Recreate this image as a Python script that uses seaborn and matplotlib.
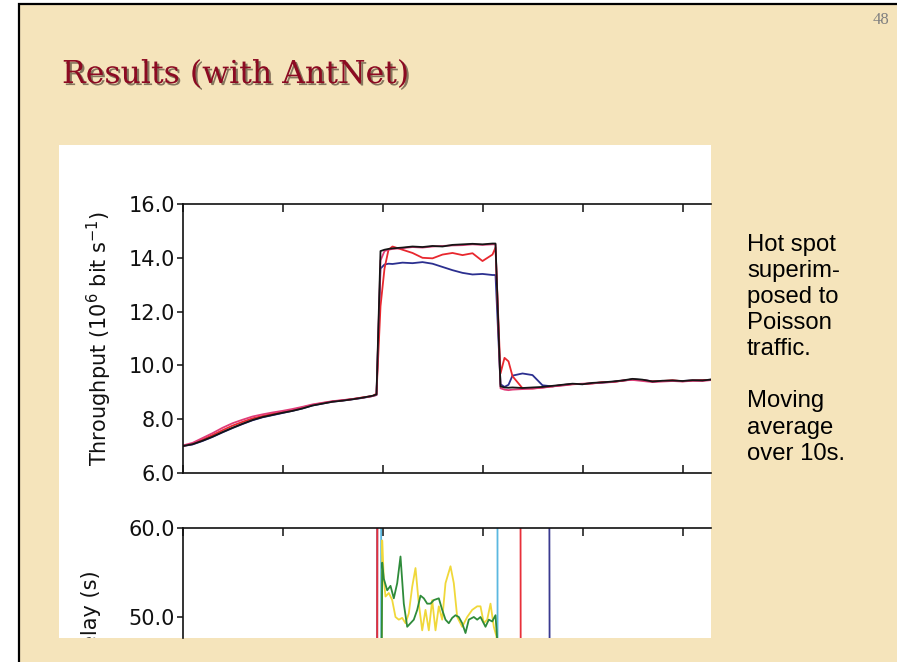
import matplotlib
matplotlib.use("Agg")
import matplotlib.pyplot as plt
import matplotlib.patheffects as pe
from matplotlib.patches import Rectangle
import numpy as np
import seaborn as sns

# time axis (ticks every 100 units)
t = [0, 10, 20, 30, 40, 50, 60, 70, 80, 90, 100, 110, 120, 130, 140, 150, 160, 170, 180, 190,
     194, 198, 202, 206, 210, 220, 230, 240, 250, 260, 270, 280, 290, 300, 310, 313,
     318, 322, 326, 330, 340, 350, 360, 370, 380, 390, 400, 410, 420, 430, 440, 450,
     460, 470, 480, 490, 500, 510, 520, 530]

# throughput, 10^6 bit/s
thr_black = [7.00, 7.07, 7.20, 7.35, 7.52, 7.68, 7.83, 7.97, 8.08, 8.16, 8.24, 8.31, 8.40, 8.51, 8.58, 8.65, 8.69, 8.74, 8.80, 8.87,
             8.92, 14.25, 14.30, 14.33, 14.35, 14.38, 14.42, 14.40, 14.44, 14.42, 14.48, 14.50, 14.52, 14.50, 14.53, 14.53,
             9.22, 9.18, 9.17, 9.18, 9.16, 9.18, 9.20, 9.24, 9.28, 9.32, 9.30, 9.35, 9.37, 9.40, 9.44, 9.50,
             9.47, 9.40, 9.43, 9.44, 9.42, 9.45, 9.44, 9.48]
thr_red = [7.00, 7.09, 7.24, 7.41, 7.59, 7.76, 7.90, 8.03, 8.12, 8.20, 8.27, 8.35, 8.44, 8.53, 8.60, 8.66, 8.70, 8.75, 8.81, 8.86,
           8.95, 12.20, 13.60, 14.30, 14.42, 14.30, 14.18, 14.00, 13.98, 14.12, 14.18, 14.10, 14.17, 13.88, 14.12, 14.38,
           9.70, 10.28, 10.15, 9.60, 9.15, 9.14, 9.18, 9.22, 9.27, 9.30, 9.31, 9.33, 9.38, 9.38, 9.43, 9.48,
           9.45, 9.41, 9.42, 9.45, 9.41, 9.44, 9.45, 9.47]
thr_blue = [7.00, 7.06, 7.19, 7.34, 7.51, 7.67, 7.82, 7.96, 8.07, 8.15, 8.23, 8.31, 8.40, 8.51, 8.58, 8.65, 8.69, 8.74, 8.79, 8.86,
            8.90, 13.60, 13.75, 13.78, 13.77, 13.82, 13.80, 13.84, 13.78, 13.66, 13.54, 13.44, 13.38, 13.40, 13.36, 13.36,
            9.30, 9.20, 9.28, 9.62, 9.70, 9.64, 9.26, 9.22, 9.27, 9.31, 9.30, 9.34, 9.36, 9.39, 9.43, 9.48,
            9.46, 9.41, 9.42, 9.43, 9.42, 9.44, 9.45, 9.47]
thr_pink = [7.02, 7.12, 7.30, 7.48, 7.68, 7.85, 7.98, 8.10, 8.18, 8.25, 8.31, 8.38, 8.46, 8.55, 8.61, 8.67, 8.71, 8.75, 8.80, 8.86,
            8.90, 13.90, 14.25, 14.30, 14.33, 14.36, 14.40, 14.38, 14.42, 14.44, 14.46, 14.47, 14.50, 14.48, 14.50, 14.50,
            9.15, 9.10, 9.08, 9.10, 9.12, 9.14, 9.17, 9.22, 9.25, 9.30, 9.32, 9.33, 9.36, 9.38, 9.44, 9.46,
            9.42, 9.38, 9.40, 9.42, 9.40, 9.43, 9.42, 9.46]

# packet delay, s (values far off the visible range are only there to make the vertical edges)
yellow_t = [0, 198, 199.7, 201.3, 203, 206.3, 209.7, 213, 216.3, 219.7, 223, 226.3, 229.7, 233, 236.3, 239.7,
            243, 246.3, 249.7, 253, 256.3, 259.7, 263, 268, 271.3, 274.7, 279.7, 284.7, 289.7, 294.7, 298,
            301.3, 304.7, 308, 311.3, 314, 316, 530]
yellow_v = [20, 20, 58.6, 54.2, 52.3, 52.7, 51.9, 50.0, 49.7, 49.9, 49.3, 50.4, 53.4, 55.5, 51.5, 48.5,
            50.8, 48.5, 51.9, 48.5, 51.2, 49.7, 53.8, 55.7, 53.8, 50.0, 48.9, 50.0, 50.8, 51.2, 51.2,
            49.3, 49.7, 51.5, 48.9, 47.8, 20, 20]
green_t = [0, 198, 199.7, 201.3, 204.7, 208, 211.3, 214.7, 218, 221.3, 224.7, 228, 231.3, 234.7, 238, 241.3,
           244.7, 248, 251.3, 256.3, 259.7, 263, 266.3, 269.7, 273, 276.3, 279.7, 283, 286.3, 291.3, 294.7,
           298, 303, 306.3, 309.7, 313, 314.7, 316.5, 530]
green_v = [20, 20, 56.1, 54.3, 53.0, 53.5, 52.1, 53.8, 56.8, 51.5, 48.9, 49.3, 49.7, 50.8, 52.4, 52.1,
           51.5, 51.5, 51.9, 52.1, 50.8, 49.7, 49.3, 49.9, 50.2, 50.0, 49.3, 48.2, 49.7, 50.0, 49.7,
           50.0, 48.9, 49.7, 49.5, 50.2, 47.4, 20, 20]
red_t = [0, 194.5, 195.5, 337, 338.5, 530]
red_v = [20, 20, 150, 150, 20, 20]
cyan_t = [0, 198.5, 199, 314.5, 315.2, 530]
cyan_v = [20, 20, 150, 150, 20, 20]
navy_t = [0, 194.5, 195.5, 365.5, 367.5, 530]
navy_v = [20, 20, 150, 150, 20, 20]

thr_ticks = [6, 8, 10, 12, 14, 16]
delay_ticks = [50, 60]
time_ticks = [0, 100, 200, 300, 400, 500]

W, H = 897, 662
PARCH = "#F5E4BB"

sns.set_theme(style="ticks")
plt.rcParams["font.family"] = ["DejaVu Sans"]
plt.rcParams["mathtext.default"] = "regular"

fig = plt.figure(figsize=(W / 100, H / 100), dpi=100)
fig.patch.set_facecolor("white")


def box(x0, y0, x1, y1):
    # pixel box -> figure fraction
    return [x0 / W, 1 - y1 / H, (x1 - x0) / W, (y1 - y0) / H]


# slide background + border
fig.patches.append(Rectangle((19 / W, -0.2), 1.2, 1.2 - 4 / H, transform=fig.transFigure,
                             facecolor=PARCH, edgecolor="black", lw=1.6, zorder=-3))
# white picture area
img = Rectangle((59 / W, 1 - 638 / H), (711 - 59) / W, (638 - 145) / H, transform=fig.transFigure,
                facecolor="white", edgecolor="none", zorder=-2)
fig.patches.append(img)

# title and slide number
fig.text(62 / W, 1 - 83 / H, "Results (with AntNet)", fontsize=22.7, family="DejaVu Serif",
         color="#8C0A22", ha="left", va="baseline",
         path_effects=[pe.withSimplePatchShadow(offset=(1.5, -1.5), shadow_rgbFace="#2a1a10", alpha=0.55)])
fig.text(881 / W, 1 - 20 / H, "48", fontsize=12, family="Liberation Serif", color="#808080",
         ha="center", va="center")

# side notes
fig.text(747 / W, 1 - 234 / H, "Hot spot\nsuperim-\nposed to\nPoisson\ntraffic.\n\nMoving\naverage\nover 10s.",
         fontsize=17.2, family="Liberation Sans", color="black", ha="left", va="top", linespacing=1.24)

tick_kw = dict(colors="#111111", labelsize=15, width=1.1)

# --- throughput panel
ax1 = fig.add_axes(box(182.5, 204, 711, 473))
ax1.set_facecolor("white")
for y, c in [(thr_blue, "#2B2F8F"), (thr_red, "#E8272E"), (thr_pink, "#E03C78"), (thr_black, "#151515")]:
    sns.lineplot(x=t, y=y, ax=ax1, color=c, lw=1.3, estimator=None, sort=False, legend=False)
ax1.set_xlim(0, 528.5)
ax1.set_ylim(6, 16)
ax1.set_yticks(thr_ticks)
ax1.set_yticklabels([f"{v:.1f}" for v in thr_ticks])
ax1.set_xticks(time_ticks)
ax1.tick_params(axis="x", direction="in", top=True, bottom=True, labelbottom=False, length=6, **tick_kw)
ax1.tick_params(axis="y", direction="out", left=True, right=False, length=4, pad=1.5, **tick_kw)
ax1.spines["right"].set_visible(False)
for s in ["left", "top", "bottom"]:
    ax1.spines[s].set_linewidth(1.2)
    ax1.spines[s].set_color("#111111")
ax1.set_xlabel("")
ax1.set_ylabel("Throughput (10$^{6}$ bit s$^{-1}$)", fontsize=15, color="#111111")
ax1.yaxis.set_label_coords((114 - 182.5) / 528.5, 0.5)

# --- delay panel (cut off by the picture edge)
ax2 = fig.add_axes(box(182.5, 528, 711, 638))
ax2.set_facecolor("white")
for tt, vv, c in [(navy_t, navy_v, "#3A3A90"), (red_t, red_v, "#E8303A"), (cyan_t, cyan_v, "#5BB8E0"),
                  (yellow_t, yellow_v, "#F0D83A"), (green_t, green_v, "#2E8B3A")]:
    sns.lineplot(x=tt, y=vv, ax=ax2, color=c, lw=1.3, estimator=None, sort=False, legend=False)
ax2.set_xlim(0, 528.5)
ax2.set_ylim(60 - 110 / 8.9, 60)
ax2.set_yticks(delay_ticks)
ax2.set_yticklabels([f"{v:.1f}" for v in delay_ticks])
ax2.set_xticks(time_ticks)
ax2.tick_params(axis="x", direction="in", top=True, bottom=False, labelbottom=False, length=6, **tick_kw)
ax2.tick_params(axis="y", direction="out", left=True, right=False, length=4, pad=1.5, **tick_kw)
ax2.spines["right"].set_visible(False)
ax2.spines["bottom"].set_visible(False)
for s in ["left", "top"]:
    ax2.spines[s].set_linewidth(1.2)
    ax2.spines[s].set_color("#111111")
ax2.set_xlabel("")
ax2.set_ylabel("Delay (s)", fontsize=15, color="#111111")
ax2.yaxis.set_label_coords((101 - 182.5) / 528.5, (638 - 617) / 110)
ax2.yaxis.label.set_clip_path(img)

fig.savefig("out.png", dpi=100, facecolor=fig.get_facecolor())
